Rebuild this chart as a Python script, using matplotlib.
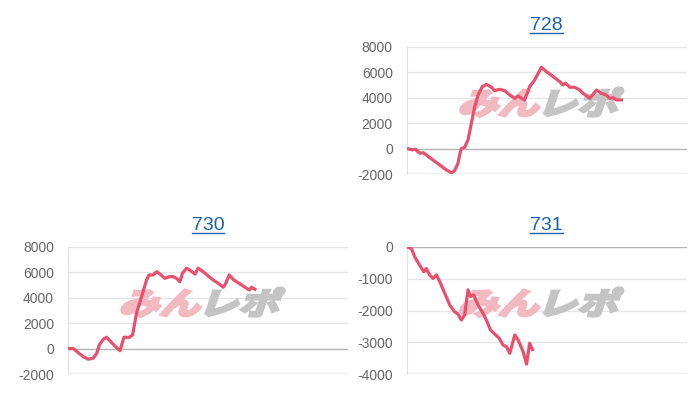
import matplotlib
matplotlib.use("Agg")
import matplotlib.pyplot as plt
from matplotlib.textpath import TextPath
from matplotlib.patches import PathPatch
from matplotlib.font_manager import FontProperties
from matplotlib.transforms import Affine2D
from matplotlib.lines import Line2D

plt.rcParams['font.family'] = ['Liberation Sans', 'DejaVu Sans']

# Data (x is position along the day, 0..100)
x728 = [0, 2.25, 3.2, 4.0, 4.9, 5.8, 7.0, 9.4, 11.8, 14.2, 16.0, 17.1, 18.3, 18.9,
        19.5, 20.7, 21.9, 23.1, 24.3, 25.5, 27.0, 28.5, 30.3, 31.4, 33.2, 35.0,
        36.8, 38.6, 39.8, 41.0, 42.1, 43.9, 45.7, 48.1, 49.9, 52.3, 54.6, 55.8,
        56.8, 58.2, 60.0, 61.8, 63.0, 65.4, 67.8, 69.5, 71.3, 72.5, 73.7, 74.9, 76.7]
y728 = [0, -100, -50, -250, -370, -320, -500, -900, -1290, -1690, -1900, -1740,
        -1160, -500, 0, 100, 680, 2000, 3300, 4220, 4880, 5050, 4830, 4560, 4670,
        4560, 4220, 3960, 4140, 3960, 3830, 4880, 5400, 6400, 6060, 5670, 5280,
        5010, 5150, 4830, 4830, 4610, 4350, 3960, 4610, 4350, 4220, 3960, 4010,
        3830, 3830]

x730 = [0, 1.9, 3.7, 5.5, 7.3, 9.0, 10.3, 11.2, 12.6, 13.8, 15.0, 16.8, 18.6,
        20.0, 21.9, 23.1, 24.5, 26.3, 28.1, 29.0, 30.5, 31.7, 32.9, 34.6, 36.4,
        37.6, 38.8, 40.0, 40.9, 42.4, 43.8, 45.4, 46.5, 48.3, 50.1, 51.9, 53.7,
        55.5, 56.4, 57.6, 59.0, 60.8, 62.6, 64.8, 65.6, 66.8]
y730 = [0, 0, -320, -640, -840, -760, -370, 280, 730, 890, 620, 200, -170, 890,
        890, 1070, 2780, 4090, 5400, 5800, 5800, 6060, 5870, 5530, 5670, 5670,
        5530, 5270, 5930, 6330, 6140, 5870, 6330, 6060, 5720, 5400, 5140, 4830,
        5140, 5800, 5450, 5190, 4930, 4610, 4830, 4670]

x731 = [0, 1.7, 2.9, 4.6, 6.1, 7.0, 8.2, 9.4, 10.6, 11.8, 13.6, 15.4, 17.1, 18.3,
        19.5, 20.7, 21.9, 22.8, 23.9, 25.5, 27.3, 28.7, 29.9, 31.4, 33.0, 34.4,
        35.6, 36.8, 38.6, 39.8, 41.6, 42.8, 43.9, 44.9]
y731 = [0, -50, -315, -570, -780, -680, -880, -990, -880, -1090, -1460, -1830,
        -2040, -2110, -2300, -2140, -1350, -1560, -1510, -1830, -2090, -2350,
        -2610, -2740, -2870, -3090, -3140, -3350, -2770, -2930, -3300, -3690,
        -3030, -3230]

titles = ['728', '730', '731']
ticks_a = [-2000, 0, 2000, 4000, 6000, 8000]
ticks_b = [-4000, -3000, -2000, -1000, 0]

line_color = '#e8506e'
title_color = '#1a62aa'
fig = plt.figure(figsize=(7, 4), dpi=100)


def watermark(ax):
    # "みんレポ" logo, skewed and heavy, behind the line
    fp = FontProperties(family='Noto Sans CJK JP', weight='bold')
    t1 = TextPath((0, 0), 'みん', size=1, prop=fp)
    t2 = TextPath((1.95, 0), 'レポ', size=1, prop=fp)
    tr = Affine2D().skew_deg(14, 0).scale(0.145, 0.24).translate(0.18, 0.47) + ax.transAxes
    ax.add_patch(PathPatch(t1, transform=tr, fc='#f2b9c0', ec='#f2b9c0', lw=2.2, zorder=1.5))
    ax.add_patch(PathPatch(t2, transform=tr, fc='#c4c4c4', ec='#c4c4c4', lw=2.2, zorder=1.5))


titles_txt = []


def panel(rect, xs, ys, title, ticks):
    ax = fig.add_axes(rect)
    ax.plot(xs, ys, color=line_color, lw=2.3, solid_joinstyle='round', zorder=3)
    ax.set_xlim(0, 100)
    ax.set_ylim(ticks[0], ticks[-1])
    ax.set_yticks(ticks)
    ax.set_yticklabels([str(t) for t in ticks])
    ax.set_xticks([])
    for t in ticks:
        c = '#b4b4b4' if t == 0 else '#e6e6e6'
        ax.axhline(t, color=c, lw=1.0, zorder=1)
    ax.axhline(ticks[0], color='#c8c8c8', lw=1.0, zorder=1)
    for s in ['top', 'right', 'bottom']:
        ax.spines[s].set_visible(False)
    ax.spines['left'].set_color('#e2e2e2')
    ax.tick_params(axis='y', length=0, pad=10, labelsize=10, labelcolor='#666666')
    t = ax.set_title(title, color=title_color, fontsize=14, pad=12)
    titles_txt.append(t)
    watermark(ax)
    return ax


panel([0.581, 0.565, 0.40, 0.3175], x728, y728, titles[0], ticks_a)
panel([0.097, 0.065, 0.40, 0.3175], x730, y730, titles[1], ticks_a)
panel([0.581, 0.065, 0.40, 0.3175], x731, y731, titles[2], ticks_b)

# underline the titles (they are links)
fig.canvas.draw()
inv = fig.transFigure.inverted()
for t in titles_txt:
    bb = t.get_window_extent()
    (x0, y0), (x1, y1) = inv.transform([(bb.x0, bb.y0), (bb.x1, bb.y1)])
    yl = y0 + 1.5 / 400
    fig.add_artist(Line2D([x0, x1], [yl, yl], color=title_color, lw=1.0))

plt.savefig('out.png', dpi=100)
